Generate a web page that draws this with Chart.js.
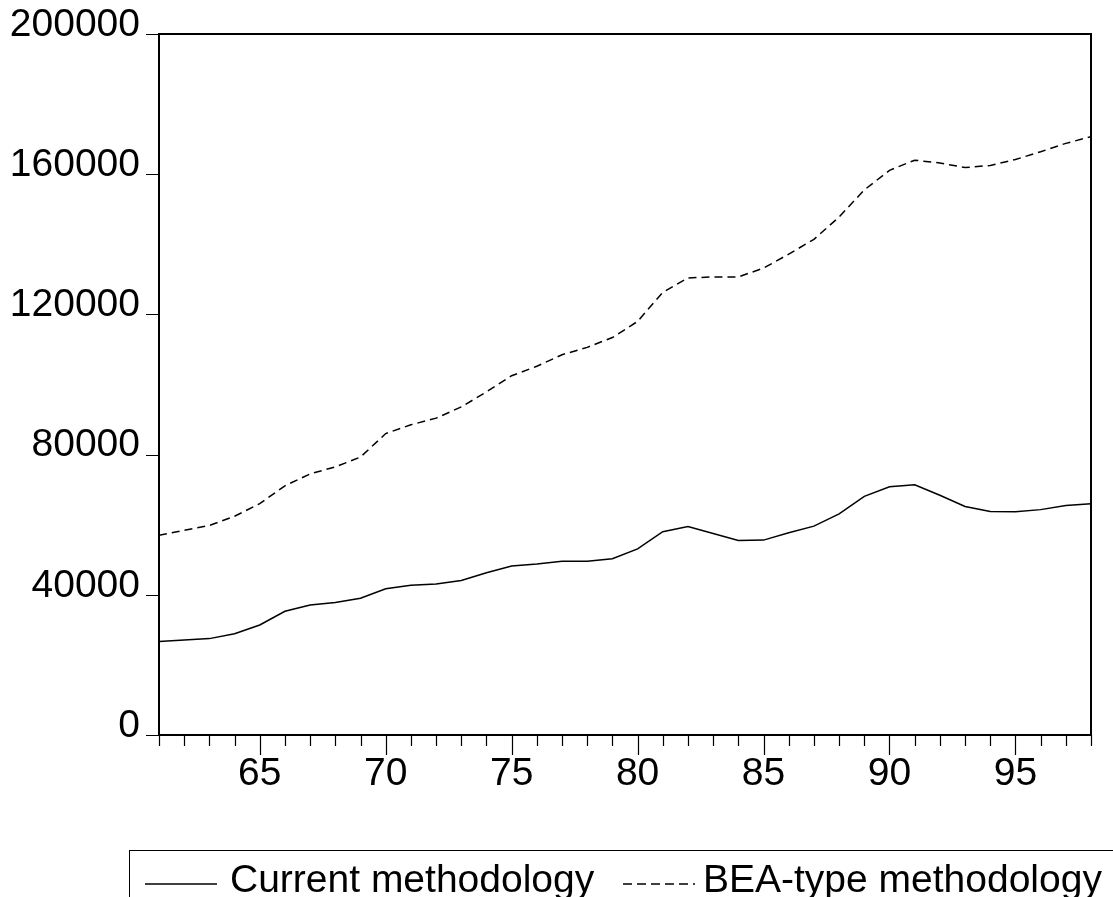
<!DOCTYPE html>
<html>
<head>
<meta charset="utf-8">
<script src="https://cdn.jsdelivr.net/npm/chart.js@4.4.1/dist/chart.umd.min.js"></script>
<style>
  body { margin: 0; background: #fff; overflow: hidden; }
  #wrap { position: relative; width: 1113px; height: 897px; overflow: hidden; font-family: "Liberation Sans", Arial, sans-serif; }
  #legend { position: absolute; left: 129px; top: 850px; width: 1050px; height: 90px; border: 1.5px solid #000; }
  .lg-text { position: absolute; top: 5px; font-size: 39px; line-height: 45px; color: #000; white-space: nowrap; }
  .lg-line { position: absolute; top: 31px; }
</style>
</head>
<body>
<div id="wrap">
  <canvas id="chart" width="1113" height="897"></canvas>
  <div id="legend">
    <svg class="lg-line" style="left:15px" width="72" height="4"><line x1="0" y1="2" x2="72" y2="2" stroke="#000" stroke-width="1.5"/></svg>
    <span class="lg-text" style="left:100px">Current methodology</span>
    <svg class="lg-line" style="left:493px" width="72" height="4"><line x1="0" y1="2" x2="72" y2="2" stroke="#000" stroke-width="1.5" stroke-dasharray="9,5"/></svg>
    <span class="lg-text" style="left:573px">BEA-type methodology</span>
  </div>
</div>
<script>
// ======= Datos =======
const years = [61, 62, 63, 64, 65, 66, 67, 68, 69, 70, 71, 72, 73, 74, 75, 76, 77, 78, 79,
  80, 81, 82, 83, 84, 85, 86, 87, 88, 89, 90, 91, 92, 93, 94, 95, 96, 97, 98];

const currentMethod = [26700, 27100, 27500, 28900, 31400, 35300, 37100, 37800, 39000, 41700,
  42700, 43100, 44100, 46300, 48200, 48800, 49600, 49600, 50300, 53100,
  58000, 59500, 57500, 55500, 55600, 57700, 59600, 63100, 68100, 70800,
  71400, 68400, 65200, 63800, 63700, 64300, 65500, 66000];

const beaMethod = [57000, 58400, 59800, 62400, 66000, 71100, 74500, 76500, 79300, 86000,
  88500, 90400, 93600, 97900, 102500, 105200, 108500, 110600, 113400, 118000,
  126300, 130400, 130700, 130700, 133200, 137200, 141400, 147800, 155500, 161100,
  164000, 163200, 161900, 162500, 164200, 166400, 168800, 170700];

const yTicks = [0, 40000, 80000, 120000, 160000, 200000];

const FONT = "'Liberation Sans', Arial, sans-serif";

// ======= Ticks y marco =======
const marcoPlugin = {
  id: 'marco',
  afterDraw(chart) {
    const { ctx, chartArea: a, scales } = chart;
    ctx.save();
    ctx.strokeStyle = '#000';
    ctx.lineWidth = 1.2;
    ctx.beginPath();
    scales.x.ticks.forEach(t => {
      const px = Math.round(scales.x.getPixelForValue(t.value)) + 0.5;
      const len = t.value % 5 === 0 ? 20 : 11;
      ctx.moveTo(px, a.bottom);
      ctx.lineTo(px, a.bottom + len);
    });
    scales.y.ticks.forEach(t => {
      const py = Math.round(scales.y.getPixelForValue(t.value)) + 0.5;
      ctx.moveTo(a.left - 13, py);
      ctx.lineTo(a.left, py);
    });
    ctx.stroke();
    ctx.lineWidth = 2;
    ctx.strokeRect(a.left, a.top, a.right - a.left, a.bottom - a.top);
    ctx.restore();
  }
};

const ctx = document.getElementById('chart').getContext('2d');

new Chart(ctx, {
  type: 'line',
  data: {
    datasets: [
      {
        label: 'Current methodology',
        data: years.map((y, i) => ({ x: y, y: currentMethod[i] })),
        borderColor: '#000',
        borderWidth: 1.5,
        pointRadius: 0,
        tension: 0,
        fill: false
      },
      {
        label: 'BEA-type methodology',
        data: years.map((y, i) => ({ x: y, y: beaMethod[i] })),
        borderColor: '#000',
        borderWidth: 1.5,
        borderDash: [8, 5],
        pointRadius: 0,
        tension: 0,
        fill: false
      }
    ]
  },
  options: {
    responsive: false,
    animation: false,
    layout: { padding: { top: 34, right: 22, bottom: 100, left: 0 } },
    plugins: { legend: { display: false }, tooltip: { enabled: false } },
    scales: {
      x: {
        type: 'linear',
        min: 61,
        max: 98,
        afterBuildTicks: s => { s.ticks = years.map(v => ({ value: v })); },
        afterFit: s => { s.height = 62; s.paddingLeft = 0; s.paddingRight = 0; },
        grid: { display: false, drawTicks: false },
        border: { display: false },
        ticks: {
          autoSkip: false,
          maxRotation: 0,
          padding: 16,
          color: '#000',
          font: { family: FONT, size: 39 },
          callback: v => (v % 5 === 0 ? String(v) : '')
        }
      },
      y: {
        min: 0,
        max: 200000,
        afterBuildTicks: s => { s.ticks = yTicks.map(v => ({ value: v })); },
        afterFit: s => { s.width = 159; s.paddingTop = 0; s.paddingBottom = 0; },
        grid: { display: false, drawTicks: false },
        border: { display: false },
        ticks: {
          padding: 19,
          labelOffset: -9,
          color: '#000',
          font: { family: FONT, size: 39 },
          callback: v => String(v)
        }
      }
    }
  },
  plugins: [marcoPlugin]
});
</script>
</body>
</html>
